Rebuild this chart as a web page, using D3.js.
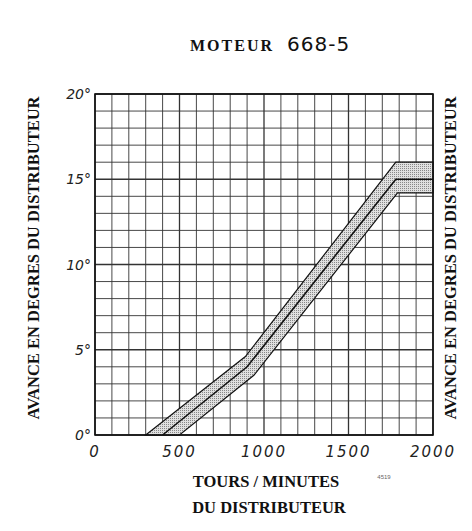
<!DOCTYPE html>
<html><head><meta charset="utf-8">
<script src="https://cdn.jsdelivr.net/npm/d3@7"></script>
<style>body{margin:0;background:#fff}</style>
</head><body>
<svg id="chart" width="472" height="531"></svg>
<script>
// Band of advance (degrees) vs distributor rpm
const upperRpm = [300, 890, 1780, 2000];
const upperDeg = [0, 4.6, 16, 16];
const midRpm = [400, 900, 1780, 2000];
const midDeg = [0, 4.0, 15, 15];
const lowerRpm = [500, 940, 1790, 2000];
const lowerDeg = [0, 3.5, 14.2, 14.2];
const xTicks = [0, 500, 1000, 1500, 2000];
const yTicks = [0, 5, 10, 15, 20];
const yTickLabels = ["0°", "5°", "10°", "15°", "20°"];

const svg = d3.select("#chart");
const margin = { top: 94, right: 39, bottom: 96, left: 95 };
const W = 472, H = 531;

const x = d3.scaleLinear().domain([0, 2000]).range([margin.left, W - margin.right]);
const y = d3.scaleLinear().domain([0, 20]).range([H - margin.bottom, margin.top]);

// stipple pattern for the band
const defs = svg.append("defs");
const pat = defs.append("pattern").attr("id", "dots")
  .attr("width", 2).attr("height", 2).attr("patternUnits", "userSpaceOnUse");
pat.append("rect").attr("width", 2).attr("height", 2).attr("fill", "#e0e0e0");
pat.append("rect").attr("width", 1).attr("height", 1).attr("fill", "#888");

// grid
const g = svg.append("g");
g.selectAll("line.v").data(d3.range(0, 2001, 100)).join("line")
  .attr("x1", d => x(d)).attr("x2", d => x(d))
  .attr("y1", y(0)).attr("y2", y(20))
  .attr("stroke", "#333").attr("stroke-width", d => d % 500 === 0 ? 1.3 : 0.9);
g.selectAll("line.h").data(d3.range(0, 21, 1)).join("line")
  .attr("x1", x(0)).attr("x2", x(2000))
  .attr("y1", d => y(d)).attr("y2", d => y(d))
  .attr("stroke", "#333").attr("stroke-width", d => d % 5 === 0 ? 1.3 : 0.9);

// band
const upper = upperRpm.map((r, i) => [r, upperDeg[i]]);
const lower = lowerRpm.map((r, i) => [r, lowerDeg[i]]);
const mid = midRpm.map((r, i) => [r, midDeg[i]]);
const line = d3.line().x(d => x(d[0])).y(d => y(d[1]));
svg.append("path")
  .attr("d", line(upper.concat(lower.slice().reverse())) + "Z")
  .attr("fill", "url(#dots)").attr("stroke", "#111").attr("stroke-width", 1.2);
svg.append("path").attr("d", line(mid))
  .attr("fill", "none").attr("stroke", "#111").attr("stroke-width", 1.6);

// frame
svg.append("rect").attr("x", x(0)).attr("y", y(20))
  .attr("width", x(2000) - x(0)).attr("height", y(0) - y(20))
  .attr("fill", "none").attr("stroke", "#111").attr("stroke-width", 1.6);

// tick labels
const tickFont = "'DejaVu Sans', sans-serif";
svg.selectAll("text.xt").data(xTicks).join("text")
  .attr("x", d => x(d)).attr("y", y(0) + 22)
  .attr("text-anchor", "middle").attr("font-family", tickFont)
  .attr("font-style", "italic").attr("font-size", 15).attr("letter-spacing", 2)
  .attr("fill", "#222").text(d => d);
svg.selectAll("text.yt").data(yTicks).join("text")
  .attr("x", x(0) - 4).attr("y", d => y(d) + 5)
  .attr("text-anchor", "end").attr("font-family", tickFont)
  .attr("font-style", "italic").attr("font-size", 14)
  .attr("fill", "#222").text((d, i) => yTickLabels[i]);

// titles
const serif = "'Liberation Serif', 'DejaVu Serif', serif";
svg.append("text").attr("x", 190).attr("y", 51)
  .attr("font-family", serif).attr("font-weight", "bold").attr("font-size", 16)
  .attr("letter-spacing", 2).attr("fill", "#111").text("MOTEUR");
svg.append("text").attr("x", 287).attr("y", 51)
  .attr("font-family", "'DejaVu Sans', sans-serif").attr("font-size", 20)
  .attr("letter-spacing", 1).attr("fill", "#111").text("668-5");
svg.append("text").attr("x", 266).attr("y", 487).attr("text-anchor", "middle")
  .attr("font-family", serif).attr("font-weight", "bold").attr("font-size", 16.5)
  .attr("fill", "#111").text("TOURS / MINUTES");
svg.append("text").attr("x", 269).attr("y", 513).attr("text-anchor", "middle")
  .attr("font-family", serif).attr("font-weight", "bold").attr("font-size", 16.5)
  .attr("fill", "#111").text("DU DISTRIBUTEUR");
svg.append("text").attr("x", 384).attr("y", 479).attr("text-anchor", "middle")
  .attr("font-family", "sans-serif").attr("font-size", 6).attr("fill", "#666").text("4519");

const yTitle = "AVANCE EN DEGRES DU DISTRIBUTEUR";
[[39, 258], [456, 258]].forEach(([tx, ty]) => {
  svg.append("text").attr("transform", `translate(${tx},${ty}) rotate(-90)`)
    .attr("text-anchor", "middle").attr("font-family", serif)
    .attr("font-weight", "bold").attr("font-size", 16.5).attr("fill", "#111")
    .text(yTitle);
});
</script>
</body></html>
